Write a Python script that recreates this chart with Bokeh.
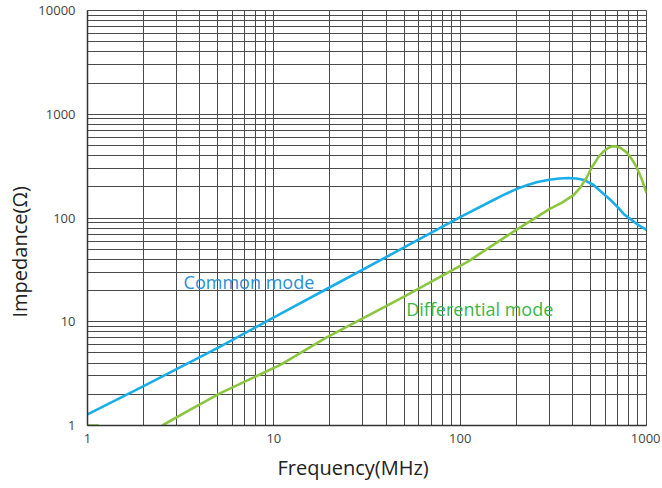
import math
from bokeh.plotting import figure
from bokeh.models import FixedTicker, Range1d, Label, Title
from bokeh.embed import file_html
from bokeh.resources import INLINE

# ---- data ----
freq_cm = [1, 2, 5, 10, 20, 50, 100, 152, 170, 200, 230, 260, 301, 340, 381, 420, 464, 520, 573, 640, 707, 760, 830, 900, 1000]
z_cm = [1.28, 2.4, 5.6, 11, 21.5, 52, 102, 150, 166, 190, 208, 222, 234, 240, 243, 240, 232, 208, 178, 150, 125, 108, 96, 86, 77]

freq_dm = [1, 1.15, 1.2, 2.52, 3.5, 5.2, 10.9, 19, 50, 110, 200, 301, 350, 406, 440, 476, 510, 552, 590, 625, 650, 681, 720, 780, 830, 884, 940, 1000]
z_dm = [1, 1, float("nan"), 1, 1.4, 2.06, 3.86, 7.0, 17.5, 38, 77, 122, 140, 166, 195, 243, 310, 386, 440, 475, 488, 492, 478, 431, 375, 309, 240, 174]

x_ticks = [1, 10, 100, 1000]
x_tick_labels = ["1", "10", "100", "1000"]
y_ticks = [1, 10, 100, 1000, 10000]
y_tick_labels = ["1", "10", "100", "1000", "10000"]

series_names = ["Common mode", "Differential mode"]
label_pos = [(3.28, 24.3), (51.3, 13.3)]

x_title = "Frequency(MHz)"
y_title = "Impedance(Ω)"

# ---- styling ----
FONT = "Open Sans"
GRID = "#4a4a4a"
CM_LINE = "#1aaee8"
DM_LINE = "#8cc63f"
CM_TEXT = "#2a8fd6"
DM_TEXT = "#3cb54a"

p = figure(width=660, height=486, x_axis_type="log", y_axis_type="log",
           x_range=Range1d(1, 1000), y_range=Range1d(1, 10000),
           output_backend="svg", toolbar_location=None,
           min_border_left=87, min_border_right=14, min_border_top=10, min_border_bottom=60)

def minors(ticks):
    out = []
    for t in ticks[:-1]:
        for m in range(2, 10):
            out.append(t * m)
    return out

p.xaxis.ticker = FixedTicker(ticks=x_ticks, minor_ticks=minors(x_ticks))
p.yaxis.ticker = FixedTicker(ticks=y_ticks, minor_ticks=minors(y_ticks))
p.xaxis.major_label_overrides = dict(zip([float(t) for t in x_ticks], x_tick_labels))
p.yaxis.major_label_overrides = dict(zip([float(t) for t in y_ticks], y_tick_labels))

for g in (p.xgrid, p.ygrid):
    g.grid_line_color = GRID
    g.grid_line_width = 1
    g.minor_grid_line_color = GRID
    g.minor_grid_line_width = 1

p.outline_line_color = GRID
p.background_fill_color = "white"
p.border_fill_color = "white"

for ax in (p.xaxis, p.yaxis):
    ax.axis_line_color = "#333333"
    ax.axis_line_width = 1.5
    ax.major_tick_out = 0
    ax.major_tick_in = 0
    ax.minor_tick_out = 0
    ax.minor_tick_in = 0
    ax.major_label_text_font = FONT
    ax.major_label_text_font_size = "13px"
    ax.major_label_text_color = "#444444"

p.xaxis.major_label_standoff = 8
p.yaxis.major_label_standoff = 12

p.line(freq_cm, z_cm, line_color=CM_LINE, line_width=2.6)
p.line(freq_dm, z_dm, line_color=DM_LINE, line_width=2.6)

for name, (lx, ly), col in zip(series_names, label_pos, [CM_TEXT, DM_TEXT]):
    p.add_layout(Label(x=lx, y=ly, text=name, text_color=col, text_font=FONT,
                       text_font_size="18px", text_baseline="middle", text_align="left"))

# axis titles, placed off-centre as in the reference
p.add_layout(Title(text=x_title, align="left", offset=190, standoff=12,
                   text_font=FONT, text_font_size="20px", text_font_style="normal",
                   text_color="#222222"), "below")
p.add_layout(Title(text=y_title, align="left", offset=108, standoff=6,
                   text_font=FONT, text_font_size="20px", text_font_style="normal",
                   text_color="#222222"), "left")

open("out.html", "w").write(file_html(p, INLINE))
